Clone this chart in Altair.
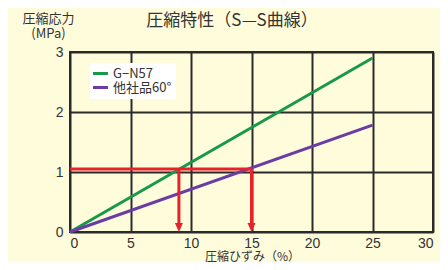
import altair as alt
import pandas as pd

# ---- data ----
series = ["G−N57", "他社品60°"]
strain_end = [25, 25]
stress_end = [2.9, 1.78]
series_colors = ["#18994a", "#6a3ca4"]
guide_stress = 1.05
guide_strain = [9, 15]
x_ticks = [0, 5, 10, 15, 20, 25, 30]
y_ticks = [0, 0.5, 1, 1.5, 2, 2.5, 3]
title_text = "圧縮特性（S—S曲線）"
y_title = ["圧縮応力", "(MPa)"]
x_title = "圧縮ひずみ（%）"

BG = "#fffcdb"
RED = "#e8222a"
JP = "Noto Sans CJK JP"
NUM = "Liberation Sans"

rows = []
for s, xe, ye in zip(series, strain_end, stress_end):
    rows.append({"series": s, "strain": 0, "stress": 0})
    rows.append({"series": s, "strain": xe, "stress": ye})
line_df = pd.DataFrame(rows)

hline_df = pd.DataFrame({"x0": [0], "x1": [max(guide_strain)], "y": [guide_stress]})
vline_df = pd.DataFrame({"x": guide_strain, "y0": [guide_stress] * len(guide_strain),
                         "y1": [0.1] * len(guide_strain), "tip": [0] * len(guide_strain)})

xs = alt.Scale(domain=[0, 30], nice=False, zero=False)
ys = alt.Scale(domain=[0, 3], nice=False, zero=False)

xaxis = alt.Axis(values=x_ticks, title=x_title, grid=True, ticks=False, domain=False,
                 labelPadding=4, labelFontSize=14, labelFont=NUM, labelColor="#333",
                 titleFont=JP, titleFontSize=12, titleFontWeight="normal", titleColor="#333",
                 titleY=31, titleX=182, titleBaseline="bottom")
yaxis = alt.Axis(values=y_ticks, title=y_title, grid=True, ticks=False, domain=False,
                 labelPadding=7, labelFontSize=14, labelFont=NUM, labelColor="#333",
                 format="~g",
                 titleFont=JP, titleFontSize=13, titleFontWeight="normal", titleColor="#333",
                 titleAngle=0, titleAlign="center", titleBaseline="top",
                 titleX=-22, titleY=-40, titleLineHeight=15)

lines = alt.Chart(line_df).mark_line(strokeWidth=3).encode(
    x=alt.X("strain:Q", scale=xs, axis=xaxis),
    y=alt.Y("stress:Q", scale=ys, axis=yaxis),
    color=alt.Color("series:N", sort=series,
                    scale=alt.Scale(domain=series, range=series_colors),
                    legend=alt.Legend(title=None, orient="none", legendX=20, legendY=11,
                                      fillColor="white", padding=4, symbolType="M-1.5,0L1.5,0",
                                      symbolStrokeWidth=3, symbolSize=100, labelFont=JP,
                                      labelFontSize=13, labelColor="#333", rowPadding=0,
                                      labelOffset=6)),
)

hline = alt.Chart(hline_df).mark_rule(color=RED, strokeWidth=3).encode(
    x=alt.X("x0:Q", scale=xs), x2="x1:Q", y=alt.Y("y:Q", scale=ys))

vlines = alt.Chart(vline_df).mark_rule(color=RED, strokeWidth=3).encode(
    x=alt.X("x:Q", scale=xs), y=alt.Y("y0:Q", scale=ys), y2="y1:Q")

heads = alt.Chart(vline_df).mark_point(
    shape="M-0.8,-1.8L0.8,-1.8L0,0Z", filled=True, color=RED, opacity=1, size=100
).encode(x=alt.X("x:Q", scale=xs), y=alt.Y("tip:Q", scale=ys))

title = alt.Chart(pd.DataFrame({"t": [title_text]})).mark_text(
    font=JP, fontSize=17, color="#333", align="center", baseline="middle"
).encode(text="t:N", x=alt.value(162), y=alt.value(-31))

chart = alt.layer(lines, hline, vlines, heads, title).properties(
    width=363, height=180,
    padding={"left": 62, "top": 44, "right": 7, "bottom": 30},
    autosize=alt.AutoSizeParams(type="none"),
    background=BG,
).configure_view(
    fill=BG, stroke="#2b2b2b", strokeWidth=2
).configure_axis(
    gridColor="#2b2b2b", gridWidth=2, gridOpacity=1
)

chart.save("out.html", embed_options={"renderer": "svg", "actions": False})
